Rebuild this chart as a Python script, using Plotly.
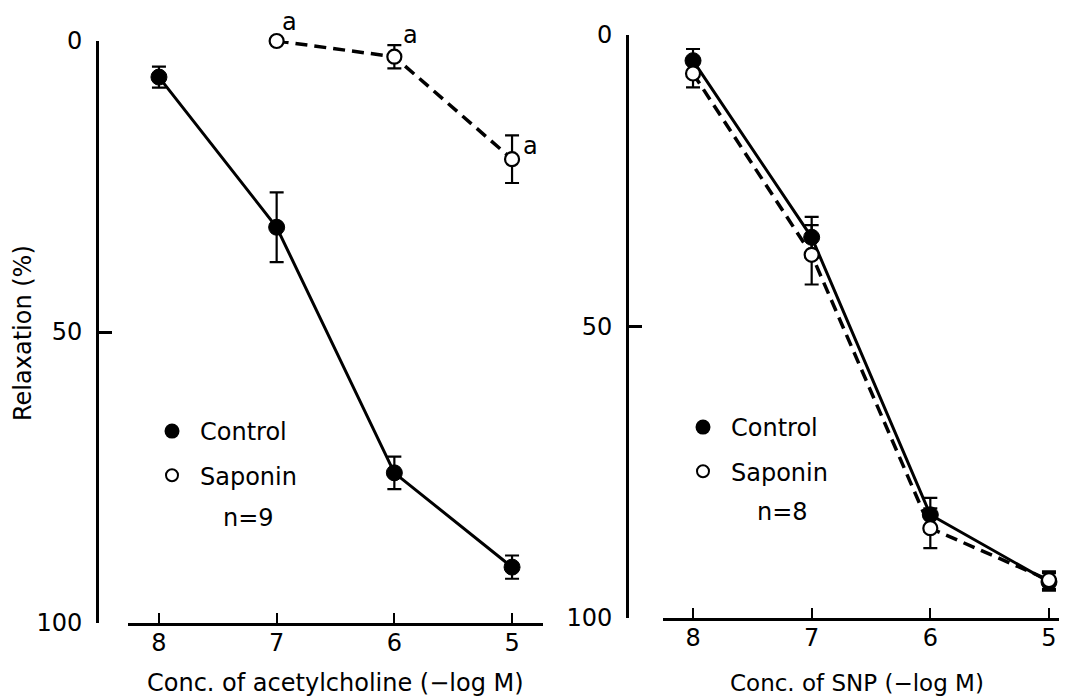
import plotly.graph_objects as go

W, H = 1067, 699
OFF = 8  # page body margin of the html page; layout positions below compensate for it


def px(p):
    return (p - OFF) / W


def py(p):
    return 1 - (p - OFF) / H


# ---------------- data ----------------
conc = [8, 7, 6, 5]
conc_ticklabels = ["8", "7", "6", "5"]
relax_ticks = [0, 50, 100]
relax_ticklabels = ["0", "50", "100"]

# Left panel: acetylcholine
ach_control = [6.2, 32.0, 74.2, 90.4]
ach_control_err = [1.8, 6.0, 2.8, 2.0]
ach_saponin_conc = [7, 6, 5]
ach_saponin = [0.0, 2.7, 20.3]
ach_saponin_err = [0.0, 2.0, 4.1]
ach_saponin_marks = ["a", "a", "a"]

# Right panel: SNP
snp_control = [4.4, 34.7, 82.3, 93.8]
snp_control_err = [2.0, 3.5, 2.9, 1.5]
snp_saponin = [6.6, 37.7, 84.6, 93.5]
snp_saponin_err = [2.4, 5.1, 3.4, 1.5]

FONT = "DejaVu Sans"
BLACK = "black"

filled = dict(symbol="circle", size=16, color=BLACK, line=dict(color=BLACK, width=1))
hollow = dict(symbol="circle", size=14, color="white", line=dict(color=BLACK, width=2.2))
err_style = dict(type="data", visible=True, color=BLACK, thickness=2.2, width=7)

fig = go.Figure()


def add_panel(xa, ya, legend_name, cx, cy, cerr, sx, sy, serr):
    fig.add_trace(go.Scatter(
        x=cx, y=cy, mode="lines+markers", xaxis=xa, yaxis=ya,
        line=dict(color=BLACK, width=3), marker=filled,
        error_y=dict(array=cerr, **err_style),
        showlegend=False, cliponaxis=False, name="Control"))
    fig.add_trace(go.Scatter(
        x=sx, y=sy, mode="lines+markers", xaxis=xa, yaxis=ya,
        line=dict(color=BLACK, width=3.5, dash="12px,7px"), marker=hollow,
        error_y=dict(array=serr, **err_style),
        showlegend=False, cliponaxis=False, name="Saponin"))
    # legend entries (markers only, as in the original key)
    fig.add_trace(go.Scatter(
        x=[None], y=[None], mode="markers", xaxis=xa, yaxis=ya,
        marker=dict(symbol="circle", size=15, color=BLACK),
        name="Control", legend=legend_name, legendgroup=legend_name + "c",
        showlegend=True))
    fig.add_trace(go.Scatter(
        x=[None], y=[None], mode="markers", xaxis=xa, yaxis=ya,
        marker=dict(symbol="circle", size=12, color="white", line=dict(color=BLACK, width=2)),
        name="Saponin", legend=legend_name, legendgroup=legend_name + "s",
        showlegend=True))


add_panel("x", "y", "legend", conc, ach_control, ach_control_err,
          ach_saponin_conc, ach_saponin, ach_saponin_err)
add_panel("x2", "y2", "legend2", conc, snp_control, snp_control_err,
          conc, snp_saponin, snp_saponin_err)


def xax(domain, rng, anchor):
    return dict(domain=domain, range=rng, anchor=anchor, automargin=False,
                tickmode="array", tickvals=conc, ticktext=conc_ticklabels,
                ticks="inside", ticklen=10, tickwidth=2.2, tickcolor=BLACK,
                showline=True, linewidth=3, linecolor=BLACK,
                showgrid=False, zeroline=False, ticklabelstandoff=-4,
                tickfont=dict(family=FONT, size=24, color=BLACK), fixedrange=True)


def yax(domain, pos):
    return dict(domain=domain, range=[100, 0], anchor="free", position=pos,
                automargin=False, tickmode="array", tickvals=relax_ticks,
                ticktext=relax_ticklabels, ticks="inside", ticklen=13,
                tickwidth=2.5, tickcolor=BLACK, showline=True, linewidth=2.7,
                linecolor=BLACK, showgrid=False, zeroline=False,
                ticklabelstandoff=9,
                tickfont=dict(family=FONT, size=24, color=BLACK), fixedrange=True)


legend_common = dict(font=dict(family=FONT, size=24, color=BLACK),
                     bgcolor="rgba(0,0,0,0)", borderwidth=0, tracegroupgap=10,
                     xanchor="left", yanchor="top", itemwidth=46)

annotations = []
# significance marks on saponin points (left panel)
a_shifts = [(13, 19), (16, 22), (18, 13)]
for xv, yv, txt, (dx, dy) in zip(ach_saponin_conc, ach_saponin, ach_saponin_marks, a_shifts):
    annotations.append(dict(x=xv, y=yv, xref="x", yref="y", text=txt, showarrow=False,
                            xshift=dx, yshift=dy,
                            font=dict(family=FONT, size=24, color=BLACK)))

annotations += [
    dict(x=px(248), y=py(518), xref="paper", yref="paper", text="n=9",
         xanchor="center", yanchor="middle", showarrow=False,
         font=dict(family=FONT, size=24, color=BLACK)),
    dict(x=px(782), y=py(512), xref="paper", yref="paper", text="n=8",
         xanchor="center", yanchor="middle", showarrow=False,
         font=dict(family=FONT, size=24, color=BLACK)),
    dict(x=px(335), y=py(683), xref="paper", yref="paper",
         text="Conc. of acetylcholine (\u2212log M)", xanchor="center",
         yanchor="middle", showarrow=False,
         font=dict(family=FONT, size=24, color=BLACK)),
    dict(x=px(857), y=py(683), xref="paper", yref="paper",
         text="Conc. of SNP (\u2212log M)", xanchor="center", yanchor="middle",
         showarrow=False, font=dict(family=FONT, size=23, color=BLACK)),
    dict(x=px(23), y=py(333), xref="paper", yref="paper",
         text="Relaxation (%)", textangle=-90, xanchor="center",
         yanchor="middle", showarrow=False,
         font=dict(family=FONT, size=24, color=BLACK)),
]

fig.update_layout(
    width=W, height=H,
    margin=dict(l=0, r=0, t=0, b=0, pad=0, autoexpand=False),
    paper_bgcolor="white", plot_bgcolor="white",
    font=dict(family=FONT, size=24, color=BLACK),
    xaxis=xax([px(128), px(543)], [8.263, 4.737], "y"),
    yaxis=yax([py(623), py(41)], px(97)),
    xaxis2=xax([px(663), px(1067)], [8.253, 4.848], "y2"),
    yaxis2=yax([py(618), py(35)], px(627)),
    legend=dict(x=px(144), y=py(409), **legend_common),
    legend2=dict(x=px(675), y=py(405), **legend_common),
    annotations=annotations,
    showlegend=True,
)

fig.write_html("out.html")
